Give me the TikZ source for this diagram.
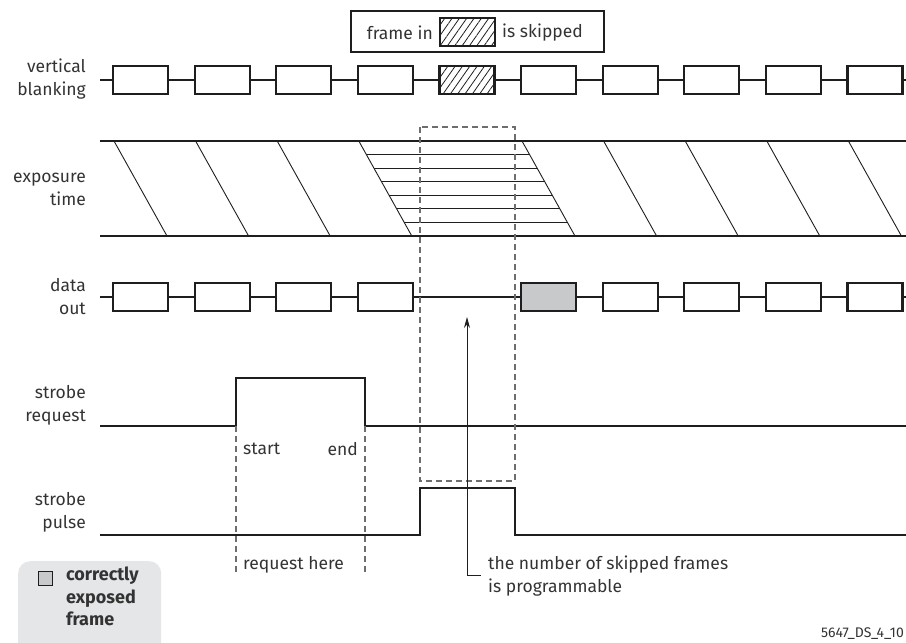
\documentclass[tikz,border=0pt]{standalone}
\usepackage{fontspec}
\setmainfont{Fira Sans}
\usetikzlibrary{patterns.meta,arrows.meta}
\definecolor{ink}{HTML}{1E1E1E}
\definecolor{txt}{HTML}{333333}
\definecolor{dgray}{HTML}{6E6E6E}
\definecolor{fgray}{HTML}{C8C9CA}
\definecolor{lgray}{HTML}{E5E6E7}
\tikzset{
  sig/.style={draw=ink,line width=2.2pt},
  frm/.style={draw=ink,line width=2.2pt,fill=white,minimum width=55pt,minimum height=28pt,inner sep=0pt},
  thinline/.style={draw=ink,line width=0.9pt},
  dashline/.style={draw=dgray,line width=1.2pt,dash pattern=on 6pt off 4pt},
  lbl/.style={text=txt,font=\fontsize{17.5}{23}\selectfont,inner sep=0pt},
  hatch/.style={pattern={Lines[angle=55,distance=6pt,line width=0.8pt]},pattern color=ink}
}
\begin{document}
\begin{tikzpicture}[x=1pt,y=-1pt]
\useasboundingbox (0,0) rectangle (906,643);
% legend (top)
\node[draw=ink,line width=1.6pt,minimum width=253pt,minimum height=41pt,inner sep=0pt] (leg) at (477.5,31.5) {};
\node[frm,hatch,minimum height=28pt] (leghatch) at (467.5,32) {};
\node[lbl,anchor=east] (legA) at (433,33) {frame in};
\node[lbl,anchor=west] (legB) at (502,33) {is skipped};
% left labels
\node[lbl,align=right,anchor=east] (Lvb) at (86,79) {vertical\\blanking};
\node[lbl,align=right,anchor=east] (Lexp) at (86,189) {exposure\\time};
\node[lbl,align=right,anchor=east] (Ldo) at (86,297) {data\\out};
\node[lbl,align=right,anchor=east] (Lsr) at (86,405) {strobe\\request};
\node[lbl,align=right,anchor=east] (Lsp) at (86,512) {strobe\\pulse};
% vertical blanking
\coordinate (vbS) at (100,80);
\coordinate (vbE) at (906,80);
\foreach \k in {0,...,9}{
  \ifnum\k=4
    \node[frm,hatch] (vb\k) at (140.5+81.6*\k,80) {};
  \else
    \node[frm] (vb\k) at (140.5+81.6*\k,80) {};
  \fi
}
\draw[sig] (vbS) -- (vb0.west);
\foreach \a/\b in {0/1,1/2,2/3,3/4,4/5,5/6,6/7,7/8,8/9}{\draw[sig] (vb\a.east) -- (vb\b.west);}
\draw[sig] (vb9.east) -- (vbE);
% exposure time
\coordinate (etL) at (100,141);
\coordinate (etR) at (906,141);
\coordinate (ebL) at (100,236);
\coordinate (ebR) at (906,236);
\foreach \k in {0,1,2,3,5,6,7,8,9}{
  \draw[thinline] (114+81.6*\k,141) -- (167+81.6*\k,236);
}
\foreach \i in {1,...,6}{
  \pgfmathsetmacro{\yy}{141+95*\i/7}
  \pgfmathsetmacro{\dx}{53*\i/7}
  \draw[thinline] (358.8+\dx,\yy) -- (522.4+\dx,\yy);
}
\draw[sig] (etL) -- (etR);
\draw[sig] (ebL) -- (ebR);
% data out
\coordinate (doS) at (100,297);
\coordinate (doE) at (906,297);
\foreach \k in {0,1,2,3,6,7,8,9}{
  \node[frm] (do\k) at (140.5+81.6*\k,297) {};
}
\node[frm,fill=fgray] (do5) at (140.5+81.6*5,297) {};
\draw[sig] (doS) -- (do0.west);
\foreach \a/\b in {0/1,1/2,2/3,3/5,5/6,6/7,7/8,8/9}{\draw[sig] (do\a.east) -- (do\b.west);}
\draw[sig] (do9.east) -- (doE);
% strobe request
\coordinate (srS) at (100,426);
\coordinate (sr1) at (236,426);
\coordinate (sr2) at (236,378);
\coordinate (sr3) at (365,378);
\coordinate (sr4) at (365,426);
\coordinate (srE) at (906,426);
\draw[sig,line join=miter] (srS) -- (sr1) -- (sr2) -- (sr3) -- (sr4) -- (srE);
% strobe pulse
\coordinate (spS) at (100,535);
\coordinate (sp1) at (420,535);
\coordinate (sp2) at (420,488);
\coordinate (sp3) at (515,488);
\coordinate (sp4) at (515,535);
\coordinate (spE) at (906,535);
\draw[sig,line join=miter] (spS) -- (sp1) -- (sp2) -- (sp3) -- (sp4) -- (spE);
% dashed skip window
\coordinate (dwA) at (420,127);
\coordinate (dwB) at (515,481);
\draw[dashline] (dwA) rectangle (dwB);
% request dashed lines
\coordinate (rq1) at (236,572);
\coordinate (rq2) at (365,572);
\draw[dashline] (sr1) -- (rq1);
\draw[dashline] (sr4) -- (rq2);
\node[lbl,anchor=west] (tstart) at (243,449) {start};
\node[lbl,anchor=east] (tend) at (358,449) {end};
\node[lbl,anchor=west] (treq) at (243,565) {request here};
% arrow
\coordinate (arB) at (467,575);
\coordinate (arT) at (467,317);
\coordinate (arR) at (481,575);
\draw[thinline,-{Stealth[length=11pt,width=6pt]}] (arB) -- (arT);
\draw[thinline] (arB) -- (arR);
\node[lbl,anchor=west,align=left] (tskip) at (488,576) {the number of skipped frames\\is programmable};
% legend bottom-left
\node[fill=lgray,rounded corners=12pt,minimum width=143pt,minimum height=100pt,inner sep=0pt,anchor=north west] (leg2) at (18,561) {};
\node[draw=ink,line width=1.5pt,fill=fgray,minimum size=14pt,inner sep=0pt] (legsq) at (45.5,578.5) {};
\node[lbl,font=\fontsize{18}{22.5}\selectfont\bfseries,align=left,anchor=north west] (legt) at (66,567) {correctly\\exposed\\frame};
\node[text=txt,font=\fontsize{14}{16}\selectfont,anchor=east,inner sep=0pt] (code) at (904,634) {5647\_DS\_4\_10};
\end{tikzpicture}
\end{document}
